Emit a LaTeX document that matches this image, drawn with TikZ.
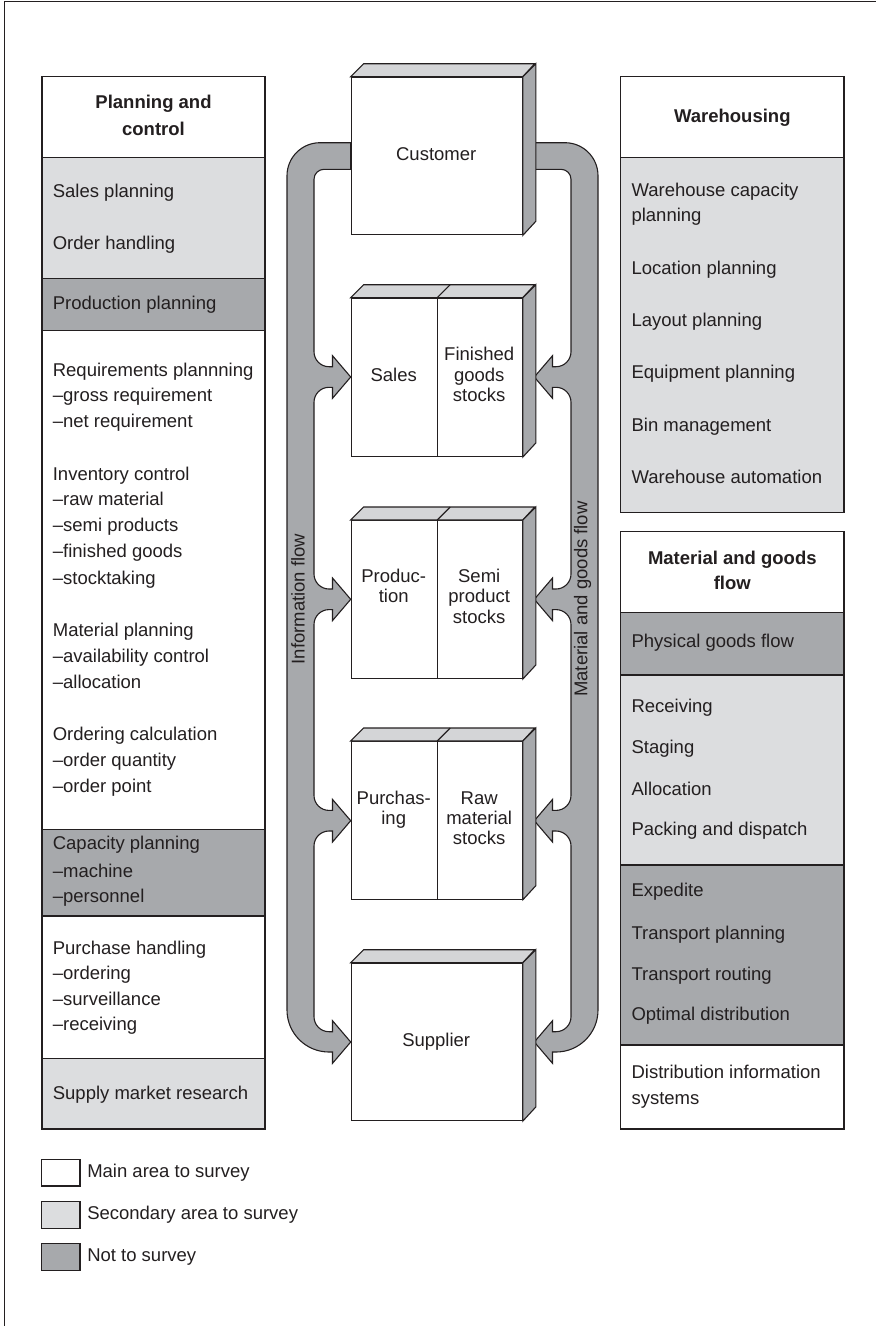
\documentclass[tikz,border=0pt]{standalone}
\usepackage{fontspec}
\setmainfont{Liberation Sans}
\usetikzlibrary{calc}
\definecolor{lg}{HTML}{DCDDDF}
\definecolor{dg}{HTML}{A7A9AC}
\definecolor{tf}{HTML}{D4D5D7}
\definecolor{ink}{HTML}{231F20}
\begin{document}
\begin{tikzpicture}[x=1pt,y=-1pt,color=ink,line width=1.1pt,line join=miter,
  item/.style={anchor=base west,inner sep=0pt,font=\fontsize{18.5}{22}\selectfont},
  ctr/.style={anchor=base,inner sep=0pt,font=\fontsize{18.5}{22}\selectfont},
  hd/.style={anchor=base,inner sep=0pt,font=\fontsize{18.5}{22}\selectfont\bfseries},
  sect/.style={draw=ink,line width=1.1pt},
  front/.style={draw=ink,fill=white,line width=1.1pt,rectangle,inner sep=0pt,anchor=north west,minimum width=171pt},
  band/.style={draw=ink,fill=dg,line width=1.1pt},
  vlab/.style={rotate=90,inner sep=0pt,font=\fontsize{18.5}{22}\selectfont}]
\useasboundingbox (0,0) rectangle (876,1326);
% frame
\draw[line width=1pt] (4,1326) -- (4,1) -- (876,1);

% ---------- left column ----------
\draw[sect,fill=white] (42,76.7) rectangle (265,157.7);
\draw[sect,fill=lg] (42,157.7) rectangle (265,278.7);
\draw[sect,fill=dg] (42,278.7) rectangle (265,330.7);
\draw[sect,fill=white] (42,330.7) rectangle (265,829.3);
\draw[sect,fill=dg] (42,829.3) rectangle (265,916);
\draw[sect,fill=white] (42,916) rectangle (265,1058.3);
\draw[sect,fill=lg] (42,1058.3) rectangle (265,1129);
\node[hd] (pch1) at (153.5,108.7) {Planning and};
\node[hd] (pch2) at (153.5,135.3) {control};
\foreach \y/\tx [count=\i] in {191.7/Sales planning,243/Order handling,303.3/Production planning,
  370/Requirements plannning,395.5/\textendash gross requirement,421/\textendash net requirement,
  474/Inventory control,499.5/\textendash raw material,525/\textendash semi products,
  551.7/\textendash finished goods,578/\textendash stocktaking,
  630.7/Material planning,656.7/\textendash availability control,682.7/\textendash allocation,
  734.3/Ordering calculation,760/\textendash order quantity,786/\textendash order point,
  843.3/Capacity planning,871/\textendash machine,896.7/\textendash personnel,
  948.3/Purchase handling,973/\textendash ordering,999/\textendash surveillance,1024/\textendash receiving,
  1093.3/Supply market research}
  \node[item] (pc\i) at (52.3,\y+6) {\tx};

% ---------- right column ----------
\draw[sect,fill=white] (620.7,76.7) rectangle (844,157.7);
\draw[sect,fill=lg] (620.7,157.7) rectangle (844,512.7);
\node[hd] (wh) at (732.3,122) {Warehousing};
\foreach \y/\tx [count=\i] in {190/Warehouse capacity,215.7/planning,268.3/Location planning,
  320.7/Layout planning,372.7/Equipment planning,425/Bin management,477.7/Warehouse automation}
  \node[item] (wh\i) at (631,\y+6) {\tx};

\draw[sect,fill=white] (620.7,531.7) rectangle (844,612.7);
\draw[sect,fill=dg] (620.7,612.7) rectangle (844,675);
\draw[sect,fill=lg] (620.7,675) rectangle (844,865);
\draw[sect,fill=dg] (620.7,865) rectangle (844,1045);
\draw[sect,fill=white] (620.7,1045) rectangle (844,1129);
\node[hd] (mg1) at (732.3,564.3) {Material and goods};
\node[hd] (mg2) at (732.3,589.3) {flow};
\foreach \y/\tx [count=\i] in {641.7/Physical goods flow,706.7/Receiving,747.3/Staging,789/Allocation,
  829.3/Packing and dispatch,890.7/Expedite,933/Transport planning,974/Transport routing,
  1014.6/Optimal distribution,1072.2/Distribution information,1098/systems}
  \node[item] (mg\i x) at (631,\y+6) {\tx};

% ---------- flow bands ----------
\filldraw[band] (350.7,142.7) -- (320,142.7) arc[start angle=270,end angle=180,radius=33]
  -- (287,1010) arc[start angle=180,end angle=90,radius=42]
  -- (332.5,1052) -- (332.5,1063.3) -- (350.7,1042) -- (332.5,1020.7) -- (332.5,1031.7) -- (329,1031.7)
  arc[start angle=90,end angle=180,radius=15]
  \foreach \a in {820.7,599.3,377} {
   -- (314,\a+25.3) arc[start angle=180,end angle=270,radius=15]
   -- (332.5,\a+10.3) -- (332.5,\a+21.3) -- (350.7,\a) -- (332.5,\a-21.3) -- (332.5,\a-10.3) -- (329,\a-10.3)
   arc[start angle=90,end angle=180,radius=15] }
  -- (314,179.3) arc[start angle=180,end angle=270,radius=10] -- (350.7,169.3) -- cycle;
\begin{scope}[shift={(885,0)},xscale=-1]
\filldraw[band] (350.7,142.7) -- (320,142.7) arc[start angle=270,end angle=180,radius=33]
  -- (287,1010) arc[start angle=180,end angle=90,radius=42]
  -- (332.5,1052) -- (332.5,1063.3) -- (350.7,1042) -- (332.5,1020.7) -- (332.5,1031.7) -- (329,1031.7)
  arc[start angle=90,end angle=180,radius=15]
  \foreach \a in {820.7,599.3,377} {
   -- (314,\a+25.3) arc[start angle=180,end angle=270,radius=15]
   -- (332.5,\a+10.3) -- (332.5,\a+21.3) -- (350.7,\a) -- (332.5,\a-21.3) -- (332.5,\a-10.3) -- (329,\a-10.3)
   arc[start angle=90,end angle=180,radius=15] }
  -- (314,179.3) arc[start angle=180,end angle=270,radius=10] -- (350.7,169.3) -- cycle;
\end{scope}
\node[vlab] (info) at (298,599) {Information flow};
\node[vlab] (mat) at (582.5,599) {Material and goods flow};

% ---------- 3D boxes ----------
\foreach \n/\tp/\h in {cust/76.7/157.6,sal/297.7/158.3,prod/520/158,pur/741/157.7,sup/962.7/157.3}{
  \node[front,minimum height=\h pt] (\n) at (350.7,\tp) {};
  \filldraw[fill=tf] (\n.north west) -- ++(13,-13) -- ++(171,0) -- (\n.north east) -- cycle;
  \filldraw[fill=dg] (\n.north east) -- ++(13,-13) -- ++(0,\h) -- (\n.south east) -- cycle;
}
\foreach \n in {sal,prod,pur}{
  \draw ($(\n.north west)!0.5!(\n.north east)+(0.5,0)$) coordinate (\n top) -- ++(13,-13);
  \draw (\n top) -- ($(\n.south west)!0.5!(\n.south east)+(0.5,0)$) coordinate (\n bot);
}
\node[ctr] (tcust) at (436.2,160.3) {Customer};
\node[ctr] (tsup) at (436.2,1046) {Supplier};
\node[ctr] (ts1) at (393.7,381) {Sales};
\node[ctr] (ts2) at (479.2,360) {Finished};
\node[ctr] (ts3) at (479.2,381) {goods};
\node[ctr] (ts4) at (479.2,401) {stocks};
\node[ctr] (tp1) at (393.7,582.7) {Produc-};
\node[ctr] (tp2) at (393.7,602.7) {tion};
\node[ctr] (tp3) at (479.2,582.7) {Semi};
\node[ctr] (tp4) at (479.2,602.7) {product};
\node[ctr] (tp5) at (479.2,623) {stocks};
\node[ctr] (tu1) at (393.7,804) {Purchas-};
\node[ctr] (tu2) at (393.7,824.3) {ing};
\node[ctr] (tu3) at (479.2,804) {Raw};
\node[ctr] (tu4) at (479.2,824.3) {material};
\node[ctr] (tu5) at (479.2,844.3) {stocks};

% ---------- legend ----------
\draw[sect,fill=white] (41.3,1159.3) rectangle (80,1186);
\draw[sect,fill=lg] (41.3,1201.7) rectangle (80,1228.3);
\draw[sect,fill=dg] (41.3,1243.3) rectangle (80,1270.7);
\node[item] (lg1) at (86.7,1177.7) {Main area to survey};
\node[item] (lg2) at (86.7,1219.3) {Secondary area to survey};
\node[item] (lg3) at (86.7,1261) {Not to survey};
\end{tikzpicture}
\end{document}
